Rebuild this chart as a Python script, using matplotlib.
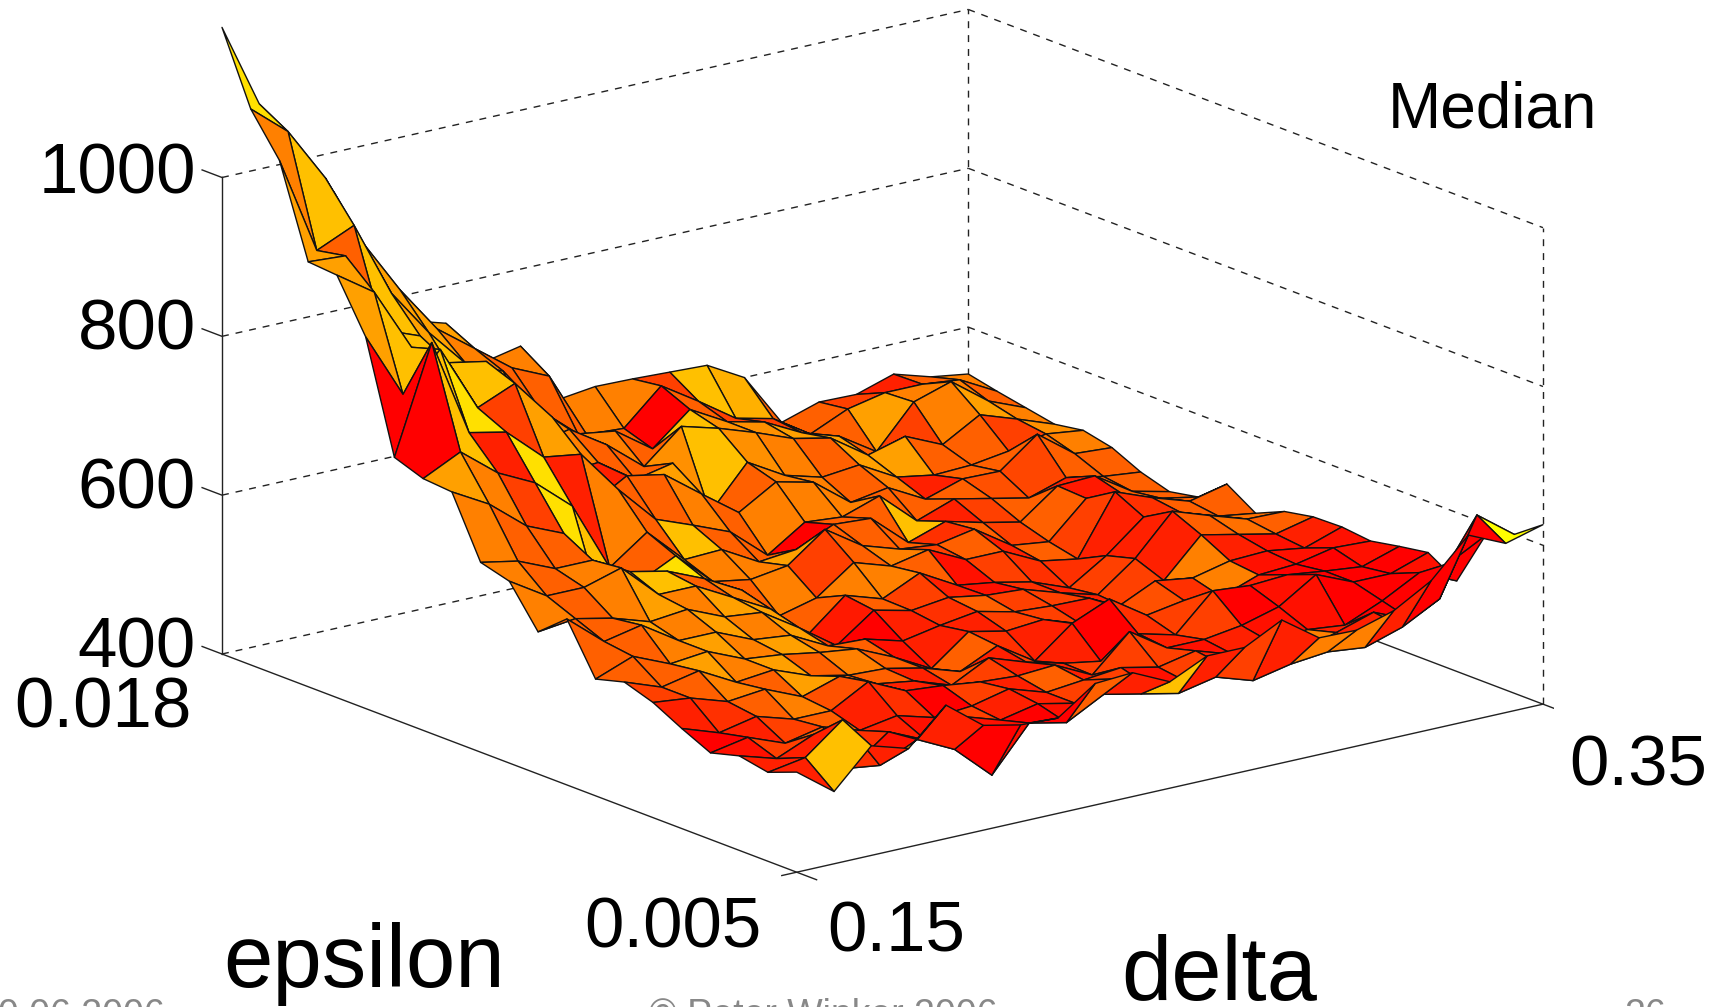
import numpy as np
import matplotlib
matplotlib.use('Agg')
import matplotlib.pyplot as plt
from mpl_toolkits.mplot3d import proj3d

plt.rcParams['font.family'] = ['Liberation Sans', 'DejaVu Sans']

W, H = 1724, 1007

delta = [0.15, 0.16, 0.17, 0.18, 0.19, 0.20, 0.21, 0.22, 0.23, 0.24, 0.25,
         0.26, 0.27, 0.28, 0.29, 0.30, 0.31, 0.32, 0.33, 0.34, 0.35]
epsilon = [0.00500, 0.00565, 0.00630, 0.00695, 0.00760, 0.00825, 0.00890,
           0.00955, 0.01020, 0.01085, 0.01150, 0.01215, 0.01280, 0.01345,
           0.01410, 0.01475, 0.01540, 0.01605, 0.01670, 0.01735, 0.01800]

# rows run along epsilon, columns along delta
median = [
    [526, 491, 538, 524, 568, 532, 522, 520, 553, 556, 534, 556, 556, 580, 547, 546, 560, 587, 634, 613, 626],
    [512, 520, 557, 489, 511, 488, 445, 500, 490, 515, 505, 495, 505, 490, 500, 505, 500, 515, 540, 635, 600],
    [519, 505, 525, 472, 507, 486, 505, 490, 500, 490, 510, 490, 485, 495, 490, 490, 505, 520, 500, 560, 585],
    [509, 518, 500, 510, 495, 503, 490, 494, 505, 490, 495, 500, 490, 500, 485, 490, 495, 490, 510, 535, 514],
    [526, 510, 520, 506, 506, 532, 510, 506, 500, 497, 500, 477, 521, 490, 490, 497, 510, 540, 520, 520, 536],
    [545, 540, 525, 530, 510, 525, 505, 498, 482, 506, 490, 478, 470, 494, 482, 527, 523, 526, 520, 515, 530],
    [557, 540, 550, 525, 530, 512, 502, 500, 490, 475, 497, 467, 504, 524, 493, 501, 495, 512, 515, 525, 523],
    [547, 565, 545, 550, 530, 525, 517, 511, 490, 465, 501, 491, 495, 479, 490, 512, 505, 516, 518, 511, 527],
    [609, 570, 580, 550, 550, 530, 525, 501, 499, 486, 495, 502, 491, 488, 487, 464, 488, 535, 525, 515, 526],
    [579, 585, 575, 560, 565, 545, 540, 510, 477, 511, 500, 506, 498, 495, 480, 467, 502, 551, 535, 520, 519],
    [629, 600, 600, 614, 570, 570, 545, 520, 477, 516, 501, 523, 497, 490, 480, 462, 492, 530, 525, 510, 503],
    [639, 630, 610, 610, 585, 575, 555, 530, 487, 499, 533, 518, 528, 505, 505, 482, 474, 548, 530, 515, 526],
    [714, 688, 650, 630, 528, 547, 570, 527, 519, 526, 561, 530, 515, 510, 519, 488, 482, 526, 520, 505, 496],
    [717, 740, 703, 680, 640, 552, 586, 541, 543, 517, 522, 543, 540, 499, 515, 503, 493, 528, 530, 500, 489],
    [730, 864, 740, 730, 688, 681, 626, 578, 560, 541, 501, 532, 528, 544, 502, 519, 509, 499, 514, 505, 500],
    [868, 785, 831, 747, 767, 714, 592, 619, 610, 575, 541, 569, 558, 522, 530, 505, 520, 519, 555, 520, 517],
    [932, 900, 820, 790, 781, 722, 618, 622, 590, 600, 527, 580, 553, 540, 545, 519, 511, 513, 520, 531, 525],
    [935, 932, 828, 810, 745, 715, 640, 650, 620, 582, 622, 609, 593, 575, 565, 533, 546, 525, 552, 536, 519],
    [1049, 925, 946, 850, 790, 740, 720, 660, 620, 613, 580, 619, 593, 582, 558, 543, 513, 565, 580, 545, 526],
    [1100, 1061, 992, 900, 830, 770, 735, 700, 679, 595, 592, 635, 605, 573, 562, 532, 553, 563, 563, 558, 533],
    [1189, 1082, 1000, 950, 847, 767, 753, 693, 703, 625, 631, 630, 628, 626, 600, 533, 548, 547, 562, 548, 541],
]

# colour value per cell, eighths of the autumn colormap
shade = [
    [1, 6, 1, 5, 1, 0, 0.5, 0, 3, 1, 6, 1, 2, 1, 4, 4, 1, 0, 0, 8],
    [1, 1, 1.5, 0.5, 1, 0, 0.5, 0, 0.5, 1, 2, 2, 1.5, 0.5, 0.5, 1, 1, 1, 0, 0],
    [0.5, 2, 3, 1.5, 1, 0.5, 2, 1, 1, 2, 2, 0.5, 2, 1, 0.5, 4, 1, 0, 0, 0],
    [0, 1, 2, 3, 1, 1.5, 0, 2, 1, 3, 1, 2, 2, 0.5, 1, 0.5, 0.5, 0, 0, 0.5],
    [1, 1.5, 3, 4, 2.5, 2, 1, 1.5, 2, 1, 1, 2, 0.5, 1, 2, 0, 0.5, 0, 0, 0],
    [2, 3, 4, 3, 5, 3, 3, 1, 2.5, 1, 2, 1, 0, 1.5, 2, 1, 1, 0, 0, 0.5],
    [3, 3, 5, 4, 5, 3, 4, 3, 1, 3, 1.5, 1, 1, 1.5, 2.5, 1.5, 4, 0.5, 0.5, 0.5],
    [3, 3, 4, 5, 4, 5, 4, 3, 0.5, 1, 1, 2, 2, 1, 3, 2, 4, 1, 0.5, 1],
    [3, 3, 5, 4, 5, 4, 5, 2, 0, 1, 1.5, 3, 2, 2, 1, 2, 1, 3, 3.5, 3],
    [4, 3, 4, 5, 4, 5, 5, 4, 0.8, 3, 2, 1, 0.5, 1.5, 1, 2, 1, 1.5, 4, 3.5],
    [4, 3, 4, 4, 6, 3, 4, 4.5, 3, 4, 4, 3, 0.5, 2, 1.5, 1.5, 1, 1.5, 3, 3],
    [4, 3, 3, 2, 3, 7, 4, 3, 4, 2, 3, 4, 2, 3, 1, 3, 2, 1.5, 3, 3],
    [5, 4, 2, 7, 6, 3, 5, 4, 4, 5, 3, 3, 3, 1.5, 3, 2, 3, 0.8, 3, 3],
    [0, 6, 1, 7, 1, 4, 3, 6, 3, 3, 0, 3, 3, 6, 1, 2, 3, 1, 3, 3],
    [0, 6, 7, 2, 5, 4, 3, 3, 4, 3, 4, 4, 4, 3, 3, 3, 2.5, 2.2, 3, 3],
    [5, 6, 7, 6, 4, 6, 1, 3, 5, 3, 3, 4, 4, 3, 4, 1, 3, 3, 3.5, 4],
    [5, 3, 6, 5, 5, 4, 4, 3, 3, 4.5, 6, 4.5, 4, 3, 5, 5, 3, 3, 2, 4.5],
    [5, 3, 6, 5, 6, 5, 4, 3, 4, 3, 6, 4.5, 4.5, 5, 5, 3, 2, 4, 5, 4],
    [4, 6, 6, 5, 5, 4, 3, 3, 3, 3, 0, 3, 2, 2, 3, 3, 5, 4, 4, 3],
    [7, 7, 6, 6, 5, 5, 4, 4, 3, 4, 4, 2, 6, 5.5, 3, 3, 2, 1, 3, 4],
]

delta_ticks = [0.15, 0.35]
epsilon_ticks = [0.005, 0.018]
z_ticks = [400, 600, 800, 1000]

X, Y = np.meshgrid(delta, epsilon)
Z = np.array(median, dtype=float)
colors = plt.cm.autumn(np.array(shade) / 8)

fig = plt.figure(figsize=(W / 100, H / 100), dpi=100)
ax = fig.add_axes([0, 0, 1, 1], projection='3d', proj_type='ortho')
ax.set_box_aspect((1, 1, 0.529))
ax.view_init(elev=17, azim=-127.6)
ax.set_xlim(delta_ticks[0], delta_ticks[1], view_margin=0)
ax.set_ylim(epsilon_ticks[0], epsilon_ticks[1], view_margin=0)
ax.set_zlim(z_ticks[0], z_ticks[-1], view_margin=0)
ax.set_axis_off()
ax.patch.set_alpha(0)
ax.computed_zorder = False


def to_px(x, y, z):
    x2, y2, _ = proj3d.proj_transform(x, y, z, ax.get_proj())
    return ax.transData.transform((x2, y2))


# fit the box to the corners seen in the reference
left_target = np.array([222, H - 654])
right_target = np.array([1543, H - 707])
side = 1.0
x0, y0 = 0.0, 0.0
for _ in range(3):
    ax.set_position([x0, y0, side * H / W, side])
    ax.apply_aspect()
    p1 = to_px(delta_ticks[0], epsilon_ticks[1], z_ticks[0])
    p2 = to_px(delta_ticks[1], epsilon_ticks[0], z_ticks[0])
    side *= (right_target[0] - left_target[0]) / (p2[0] - p1[0])
    ax.set_position([x0, y0, side * H / W, side])
    ax.apply_aspect()
    p1 = to_px(delta_ticks[0], epsilon_ticks[1], z_ticks[0])
    x0 += (left_target[0] - p1[0]) / W
    y0 += (left_target[1] - p1[1]) / H
ax.set_position([x0, y0, side * H / W, side])

d0, d1 = delta_ticks
e0, e1 = epsilon_ticks
z0, z1 = z_ticks[0], z_ticks[-1]
ink = '#222222'
lw = 1.0
dash = (0, (5, 5))
tick_e = 0.00045
for z in z_ticks:
    ax.plot([d0, d1], [e1, e1], [z, z], color=ink, lw=lw, ls=dash, zorder=1)
    ax.plot([d0, d0], [e1, e1 + tick_e], [z, z], color=ink, lw=lw, zorder=1)
    if z > z0:
        ax.plot([d1, d1], [e1, e0], [z, z], color=ink, lw=lw, ls=dash, zorder=1)
ax.plot([d1, d1], [e1, e1], [z0, z1], color=ink, lw=lw, ls=dash, zorder=1)
ax.plot([d1, d1], [e0, e0], [z0, z1], color=ink, lw=lw, ls=dash, zorder=1)
ax.plot([d0, d0], [e1, e1], [z0, z1], color=ink, lw=lw, zorder=1)
ax.plot([d0, d0], [e0 - tick_e, e1], [z0, z0], color=ink, lw=lw, zorder=1)
ax.plot([d0 - 0.004, d1], [e0, e0], [z0, z0], color=ink, lw=lw, zorder=1)
ax.plot([d1, d1], [e0 - tick_e, e1], [z0, z0], color=ink, lw=lw, zorder=1)

surf = ax.plot_surface(X, Y, Z, facecolors=colors, rstride=1, cstride=1, shade=False,
                       edgecolor='#111111', linewidth=1.0, antialiased=True, zorder=2)
surf.set_clip_on(False)


def label(x, y, s, size, ha='left', va='baseline', color='black'):
    fig.text(x / W, 1 - y / H, s, fontsize=size, ha=ha, va=va, color=color)


label(196, 176, '1000', 51, ha='right', va='center')
label(196, 331, '800', 51, ha='right', va='center')
label(196, 490, '600', 51, ha='right', va='center')
label(196, 649, '400', 51, ha='right', va='center')
label(192, 709, '0.018', 51, ha='right', va='center')
label(762, 948, '0.005', 51, ha='right')
label(827, 951, '0.15', 51)
label(1707, 785, '0.35', 51, ha='right')
label(223, 987, 'epsilon', 64)
label(1121, 1000, 'delta', 65)
label(1388, 127, 'Median', 46)
label(165, 1026, '10.06.2006', 27, ha='right', color='#888888')
label(649, 1026, '© Peter Winker 2006', 27, color='#888888')
label(1666, 1026, '26', 27, ha='right', color='#888888')

fig.savefig('out.png', dpi=100)
